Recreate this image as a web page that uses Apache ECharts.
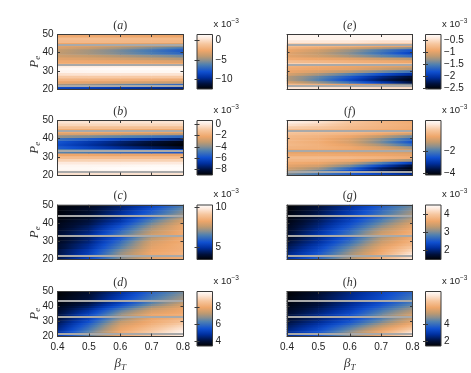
<!DOCTYPE html>
<html><head><meta charset="utf-8">
<script src="https://cdn.jsdelivr.net/npm/echarts@6/dist/echarts.min.js"></script>
<style>html,body{margin:0;padding:0;background:#fff}#c{width:471px;height:373px}</style>
</head><body><div id="c"></div><script>
// ---------------- data ----------------
const betaT = [0.4, 0.5, 0.6, 0.7, 0.8];            // x nodes of each row
const peEdges = [20,21,21.8,23,24.5,26,27.5,29,30.5,32,33.2,34.5,36,37.5,39,40.5,42,43.2,44.1,45.5,47,48.5,50];
const grayLinesPe = [21.8, 33.2, 44.1];
const xTicks = [0.4, 0.5, 0.6, 0.7, 0.8];
const yTicks = [20, 30, 40, 50];
const panelLetters = ['a','b','c','d','e','f','g','h'];
const cbarMin = [-12.5, -9.0, 3.5, 3.5, -2.52, -4.12, 1.5, 1.5];
const cbarMax = [1.6, 0.7, 10.3, 9.9, -0.27, 0.72, 4.5, 7.75];
const cbarTicksA = [0, -5, -10];
const cbarTicksB = [0, -2, -4, -6, -8];
const cbarTicksC = [5, 10];
const cbarTicksD = [4, 6, 8];
const cbarTicksE = [-0.5, -1, -1.5, -2, -2.5];
const cbarTicksF = [-2, -4];
const cbarTicksG = [2, 3, 4];
const cbarTicksH = [2, 4];
// values (x 10^-3), rows from Pe=20 upward, columns at betaT nodes
const valA = [
[-8.5,-8.8,-9.2,-9.6,-10.0],[-7.8,-8.0,-8.4,-8.8,-9.2],[-4.5,-5.0,-5.7,-6.4,-7.2],[-2.8,-3.0,-3.2,-3.5,-3.8],
[-1.8,-1.9,-2.0,-2.1,-2.2],[-0.8,-0.8,-0.8,-0.8,-0.8],[0.2,0.3,0.3,0.3,0.3],[1.0,1.1,1.2,1.2,1.2],
[1.2,1.3,1.4,1.4,1.4],[0.6,0.7,0.8,0.8,0.8],[-2.0,-2.0,-2.1,-2.2,-2.3],[-2.4,-2.5,-2.7,-2.9,-3.1],
[-3.0,-3.2,-3.5,-3.9,-4.3],[-3.6,-3.9,-4.4,-5.0,-5.6],[-4.0,-4.6,-5.4,-6.3,-7.2],[-3.9,-4.6,-5.5,-6.5,-7.6],
[-3.3,-3.9,-4.7,-5.6,-6.6],[-3.0,-3.3,-3.8,-4.4,-5.0],[-2.6,-2.7,-2.8,-3.0,-3.2],[-1.6,-1.6,-1.7,-1.8,-1.9],
[-1.4,-1.4,-1.5,-1.6,-1.7],[-2.4,-2.4,-2.5,-2.6,-2.7]];
const valB = [
[-0.3,-0.3,-0.3,-0.3,-0.3],[-0.1,-0.1,-0.1,-0.1,-0.1],[0.3,0.3,0.4,0.4,0.4],[0.5,0.5,0.6,0.6,0.6],
[0.4,0.4,0.4,0.5,0.5],[0.0,0.0,0.0,0.0,0.0],[-0.7,-0.7,-0.7,-0.7,-0.7],[-1.4,-1.4,-1.4,-1.4,-1.4],
[-2.2,-2.2,-2.3,-2.3,-2.3],[-4.5,-4.8,-5.1,-5.4,-5.7],[-4.6,-5.0,-5.4,-5.8,-6.2],[-5.6,-6.3,-7.0,-7.6,-8.2],
[-6.0,-6.8,-7.6,-8.3,-8.9],[-5.8,-6.6,-7.4,-8.1,-8.7],[-5.0,-5.6,-6.3,-6.9,-7.5],[-3.8,-4.1,-4.5,-4.9,-5.3],
[-2.6,-2.7,-2.9,-3.1,-3.3],[-2.0,-2.0,-2.1,-2.2,-2.3],[-2.0,-2.0,-2.0,-2.1,-2.1],[-1.3,-1.3,-1.3,-1.3,-1.3],
[-0.6,-0.6,-0.6,-0.6,-0.6],[-0.2,-0.2,-0.2,-0.2,-0.2]];
const valC = [
[4.3,5.5,7.0,8.1,8.4],[4.2,5.3,6.9,8.0,8.4],[4.3,5.5,7.2,8.3,8.6],[4.2,5.3,7.1,8.3,8.6],
[4.2,5.2,6.9,8.2,8.5],[4.0,5.0,6.6,8.1,8.5],[4.0,4.9,6.4,8.0,8.5],[3.9,4.7,6.2,7.9,8.4],
[3.8,4.6,5.9,7.6,8.4],[3.8,4.5,5.7,7.4,8.3],[4.0,4.9,6.4,7.8,8.4],[4.0,4.7,6.2,7.6,8.4],
[3.9,4.6,5.9,7.4,8.3],[3.8,4.5,5.7,7.2,8.3],[3.8,4.3,5.4,6.9,8.1],[3.7,4.2,5.1,6.6,7.9],
[3.6,4.0,4.9,6.2,7.6],[3.6,3.9,4.7,5.9,7.2],[3.6,4.1,5.0,6.1,7.2],[3.6,4.0,4.9,5.9,7.0],
[3.6,4.0,4.7,5.7,6.8],[3.6,3.9,4.6,5.5,6.6]];
const valD = [
[5.10,6.51,7.98,8.75,9.45],[4.97,6.38,7.85,8.62,9.39],[4.91,6.51,8.04,8.88,9.64],[4.78,6.38,7.98,8.75,9.52],
[4.65,6.19,7.85,8.62,9.32],[4.52,6.00,7.72,8.43,9.13],[4.40,5.80,7.53,8.24,8.88],[4.27,5.55,7.34,8.11,8.62],
[4.14,5.29,7.02,7.98,8.43],[4.01,5.10,6.70,7.85,8.24],[4.14,5.42,7.02,7.98,8.17],[4.08,5.23,6.83,7.85,8.11],
[4.01,5.04,6.57,7.66,8.04],[3.88,4.78,6.19,7.40,7.98],[3.82,4.52,5.80,7.08,7.79],[3.69,4.33,5.48,6.70,7.60],
[3.63,4.14,5.16,6.38,7.34],[3.56,4.01,4.91,6.06,7.08],[3.63,4.20,5.29,6.32,7.08],[3.63,4.14,5.16,6.19,6.96],
[3.56,4.08,5.04,6.06,6.83],[3.56,4.01,4.91,5.93,6.70]];
const valE = [
[-0.45,-0.45,-0.45,-0.5,-0.5],[-0.5,-0.5,-0.55,-0.6,-0.6],[-0.75,-0.85,-1.0,-1.2,-1.4],[-1.05,-1.3,-1.6,-1.95,-2.3],
[-1.2,-1.5,-1.85,-2.2,-2.45],[-1.2,-1.45,-1.75,-2.1,-2.35],[-1.05,-1.25,-1.5,-1.8,-2.05],[-0.95,-1.05,-1.2,-1.4,-1.6],
[-0.9,-0.95,-1.0,-1.1,-1.2],[-0.85,-0.9,-0.95,-1.0,-1.05],[-0.6,-0.6,-0.65,-0.7,-0.75],[-0.75,-0.8,-0.85,-0.9,-0.95],
[-0.9,-0.95,-1.0,-1.1,-1.2],[-1.0,-1.1,-1.25,-1.45,-1.65],[-1.0,-1.15,-1.35,-1.6,-1.9],[-0.95,-1.1,-1.3,-1.55,-1.8],
[-0.85,-0.95,-1.1,-1.25,-1.4],[-0.75,-0.8,-0.85,-0.95,-1.0],[-0.6,-0.6,-0.6,-0.65,-0.65],[-0.45,-0.45,-0.45,-0.5,-0.5],
[-0.35,-0.35,-0.35,-0.35,-0.35],[-0.35,-0.35,-0.35,-0.35,-0.35]];
const valF = [
[-1.70,-2.09,-2.43,-2.76,-3.15],[-1.46,-1.94,-2.43,-2.91,-3.39],[-1.22,-1.80,-2.57,-3.39,-3.93],[-1.02,-1.41,-2.28,-3.35,-3.97],
[-0.83,-1.02,-1.70,-2.76,-3.73],[-0.64,-0.73,-1.12,-1.94,-2.91],[-0.44,-0.49,-0.64,-0.93,-1.46],[-0.35,-0.35,-0.39,-0.49,-0.64],
[-0.64,-0.64,-0.68,-0.73,-0.83],[-0.83,-0.83,-0.88,-0.93,-1.02],[-0.64,-0.64,-0.73,-0.88,-1.12],[-0.49,-0.54,-0.68,-0.97,-1.46],
[-0.39,-0.54,-0.83,-1.41,-2.18],[-0.44,-0.59,-0.97,-1.70,-2.57],[-0.44,-0.59,-0.93,-1.60,-2.28],[-0.39,-0.49,-0.73,-1.22,-1.80],
[-0.25,-0.35,-0.49,-0.73,-1.12],[-0.15,-0.25,-0.35,-0.49,-0.64],[-0.35,-0.39,-0.49,-0.64,-0.73],[-0.05,-0.15,-0.35,-0.49,-0.64],
[0.24,0.04,-0.25,-0.44,-0.59],[0.48,0.24,-0.15,-0.44,-0.64]];
const valG = [
[2.16,2.64,3.21,3.75,4.26],[2.10,2.58,3.15,3.69,4.20],[2.07,2.55,3.18,3.72,4.32],[2.01,2.49,3.12,3.66,4.20],
[1.95,2.40,3.03,3.60,4.08],[1.89,2.34,2.94,3.54,3.96],[1.83,2.25,2.82,3.45,3.84],[1.77,2.16,2.70,3.36,3.75],
[1.71,2.10,2.61,3.27,3.69],[1.65,2.04,2.52,3.18,3.66],[1.74,2.22,2.76,3.42,3.75],[1.71,2.16,2.70,3.33,3.69],
[1.68,2.10,2.61,3.21,3.63],[1.65,2.04,2.52,3.09,3.57],[1.62,1.98,2.43,2.97,3.48],[1.59,1.92,2.34,2.85,3.36],
[1.56,1.86,2.25,2.73,3.24],[1.53,1.80,2.19,2.64,3.15],[1.56,1.89,2.28,2.76,3.21],[1.56,1.86,2.25,2.70,3.15],
[1.53,1.83,2.19,2.64,3.06],[1.53,1.80,2.16,2.58,3.00]];
const valH = [
[2.81,3.56,4.75,6.00,7.13],[2.69,3.44,4.63,5.88,7.00],[2.75,3.56,4.81,6.00,7.25],[2.63,3.44,4.63,5.81,6.94],
[2.50,3.31,4.38,5.56,6.63],[2.38,3.13,4.13,5.25,6.31],[2.25,2.94,3.81,4.94,6.00],[2.13,2.75,3.56,4.63,5.75],
[2.00,2.56,3.31,4.38,5.50],[1.88,2.44,3.13,4.13,5.25],[2.13,2.75,3.50,4.63,5.56],[2.00,2.63,3.38,4.44,5.38],
[1.94,2.50,3.25,4.25,5.19],[1.81,2.38,3.06,4.00,4.94],[1.75,2.25,2.94,3.75,4.69],[1.69,2.13,2.81,3.56,4.44],
[1.63,2.06,2.69,3.38,4.19],[1.56,2.00,2.63,3.25,4.00],[1.63,2.13,2.81,3.44,4.25],[1.63,2.13,2.75,3.38,4.13],
[1.56,2.06,2.69,3.31,4.00],[1.56,2.00,2.63,3.25,3.88]];

// ---------------- style / layout ----------------
const panelVals = [valA, valB, valC, valD, valE, valF, valG, valH];
const panelTicks = [cbarTicksA, cbarTicksB, cbarTicksC, cbarTicksD, cbarTicksE, cbarTicksF, cbarTicksG, cbarTicksH];
const cmap = [[0,[0,0,0]],[0.1,[0,16,58]],[0.22,[0,48,160]],[0.32,[16,80,208]],[0.45,[80,128,176]],
  [0.52,[138,143,143]],[0.6,[192,154,112]],[0.7,[238,166,106]],[0.82,[246,198,158]],[0.92,[253,232,218]],[1,[255,255,255]]];
function cmapColor(t) {
  t = Math.max(0, Math.min(1, t));
  for (let i = 1; i < cmap.length; i++) {
    if (t <= cmap[i][0]) {
      const a = cmap[i-1], b = cmap[i], u = (t - a[0]) / (b[0] - a[0]);
      const c = a[1].map((v, k) => Math.round(v + (b[1][k] - v) * u));
      return 'rgb(' + c.join(',') + ')';
    }
  }
  return 'rgb(255,255,255)';
}
const L = { plotLeft: [57.5, 287], plotW: 125.5, cbLeft: [197, 425.5], cbW: 15.5, top: [34.5, 120.5, 205, 291.5], h: 54.5 };
const axisColor = '#3a3a3a';
const labelFont = { fontFamily: 'Liberation Sans', fontSize: 10, color: '#222' };
const serif = 'Liberation Serif';
const fmtNum = v => String(v).replace('-', '\u2212');

const grid = [], xAxis = [], yAxis = [], series = [], graphic = [];
panelVals.forEach((vals, p) => {
  const col = p < 4 ? 0 : 1, row = p % 4;
  const gi = grid.length;
  grid.push({ left: L.plotLeft[col], top: L.top[row], width: L.plotW, height: L.h });
  grid.push({ left: L.cbLeft[col], top: L.top[row], width: L.cbW, height: L.h });
  const mkX = (pos, showLab) => ({
    gridIndex: gi, type: 'value', min: 0.4, max: 0.8, position: pos, z: 5,
    axisLine: { show: true, onZero: false, lineStyle: { color: axisColor, width: 1 } },
    axisTick: { show: true, inside: true, length: 2.5, customValues: xTicks, lineStyle: { color: axisColor } },
    axisLabel: { show: showLab, customValues: xTicks, formatter: v => v.toFixed(1), margin: 6, ...labelFont },
    splitLine: { show: false },
    name: showLab ? '{b|\u03b2}{s|T}' : '', nameLocation: 'middle', nameGap: 20, nameMoveOverlap: false,
    nameTextStyle: { rich: { b: { fontFamily: serif, fontStyle: 'italic', fontSize: 13, color: '#333' },
      s: { fontFamily: serif, fontStyle: 'italic', fontSize: 9, color: '#333', padding: [7, 0, 0, 0] } } }
  });
  const xb = xAxis.length; xAxis.push(mkX('bottom', row === 3)); xAxis.push(mkX('top', false));
  const mkY = (pos, showLab) => ({
    gridIndex: gi, type: 'value', min: 20, max: 50, position: pos, z: 5,
    axisLine: { show: true, onZero: false, lineStyle: { color: axisColor, width: 1 } },
    axisTick: { show: true, inside: true, length: 2.5, customValues: yTicks, lineStyle: { color: axisColor } },
    axisLabel: { show: showLab, customValues: yTicks, margin: 4, ...labelFont },
    splitLine: { show: false },
    name: showLab ? '{p|P}{s|e}' : '', nameLocation: 'middle', nameGap: 15, nameRotate: 90, nameMoveOverlap: false,
    nameTextStyle: { rich: { p: { fontFamily: serif, fontStyle: 'italic', fontSize: 13, color: '#333' },
      s: { fontFamily: serif, fontStyle: 'italic', fontSize: 9, color: '#333', padding: [7, 0, 0, 0] } } }
  });
  const yl = yAxis.length; yAxis.push(mkY('left', col === 0)); yAxis.push(mkY('right', false));
  // colorbar axes
  const ticks = panelTicks[p], mn = cbarMin[p], mx = cbarMax[p];
  const xc = xAxis.length;
  xAxis.push({ gridIndex: gi + 1, type: 'value', min: 0, max: 1, show: false });
  const yc = yAxis.length;
  yAxis.push({ gridIndex: gi + 1, type: 'value', min: mn, max: mx, position: 'right', z: 5,
    axisLine: { show: false }, splitLine: { show: false },
    axisTick: { show: true, inside: true, length: 2.5, customValues: ticks, lineStyle: { color: axisColor } },
    axisLabel: { show: true, customValues: ticks, formatter: fmtNum, margin: 3, ...labelFont } });
  yAxis.push({ gridIndex: gi + 1, type: 'value', min: mn, max: mx, position: 'left', z: 5,
    axisLine: { show: false }, splitLine: { show: false },
    axisTick: { show: true, inside: true, length: 2.5, customValues: ticks, lineStyle: { color: axisColor } },
    axisLabel: { show: false } });

  // heat cells
  const data = [];
  vals.forEach((r, j) => {
    for (let k = 0; k < betaT.length - 1; k++) {
      data.push([betaT[k], betaT[k + 1], peEdges[j], peEdges[j + 1], r[k], r[k + 1]]);
    }
  });
  series.push({
    type: 'custom', xAxisIndex: xb, yAxisIndex: yl, silent: true, z: 2,
    encode: { x: [0, 1], y: [2, 3] },
    data,
    renderItem: (params, api) => {
      const x0 = api.value(0), x1 = api.value(1), y0 = api.value(2), y1 = api.value(3);
      const v0 = api.value(4), v1 = api.value(5);
      const a = api.coord([x0, y1]), b = api.coord([x1, y0]);
      const stops = [0, 0.25, 0.5, 0.75, 1].map(t => ({ offset: t, color: cmapColor((v0 + (v1 - v0) * t - mn) / (mx - mn)) }));
      return { type: 'rect', shape: { x: a[0] - 0.3, y: a[1] - 0.3, width: b[0] - a[0] + 0.6, height: b[1] - a[1] + 0.6 },
        style: { fill: new echarts.graphic.LinearGradient(0, 0, 1, 0, stops), stroke: null } };
    },
    markLine: { silent: true, symbol: 'none', label: { show: false }, animation: false,
      lineStyle: { color: '#a9a9a9', width: 2, type: 'solid' },
      data: grayLinesPe.map(v => ({ yAxis: v })) }
  });
  // colorbar
  series.push({
    type: 'custom', xAxisIndex: xc, yAxisIndex: yc, silent: true, z: 2,
    data: [[0, 1, mn, mx]],
    renderItem: (params, api) => {
      const a = api.coord([0, mx]), b = api.coord([1, mn]);
      const stops = cmap.map(s => ({ offset: 1 - s[0], color: 'rgb(' + s[1].join(',') + ')' }));
      stops.reverse();
      return { type: 'rect', shape: { x: a[0], y: a[1], width: b[0] - a[0], height: b[1] - a[1] },
        style: { fill: new echarts.graphic.LinearGradient(0, 0, 0, 1, stops), stroke: axisColor, lineWidth: 1 } };
    }
  });
  // title and exponent
  graphic.push({ type: 'text', x: L.plotLeft[col] + L.plotW / 2, y: L.top[row] - 9,
    style: { text: '{p|(}{i|' + panelLetters[p] + '}{p|)}', align: 'center', verticalAlign: 'middle',
      rich: { p: { fontFamily: serif, fontSize: 12, fill: '#333' }, i: { fontFamily: serif, fontStyle: 'italic', fontSize: 12, fill: '#333' } } } });
  graphic.push({ type: 'text', x: L.cbLeft[col] + L.cbW + 1, y: L.top[row] - 4,
    style: { text: '{n|x 10}{e|\u22123}', align: 'left', verticalAlign: 'bottom',
      rich: { n: { fontFamily: 'Liberation Sans', fontSize: 9.5, fill: '#222' },
        e: { fontFamily: 'Liberation Sans', fontSize: 6.5, fill: '#222', padding: [0, 0, 6, 0] } } } });
});

const chart = echarts.init(document.getElementById('c'), null, { renderer: 'canvas' });
chart.setOption({ animation: false, backgroundColor: '#fff', grid, xAxis, yAxis, series, graphic });
</script></body></html>
